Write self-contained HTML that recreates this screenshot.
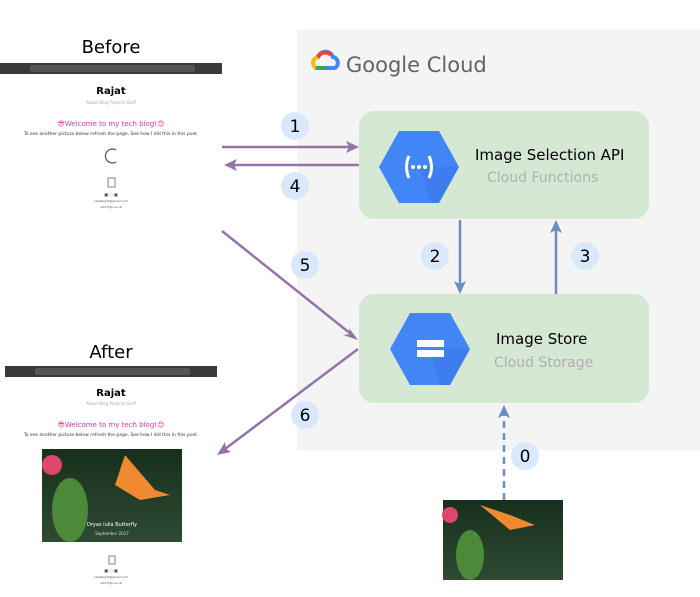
<!DOCTYPE html>
<html><head><meta charset="utf-8"><style>
body{margin:0;width:700px;height:592px;background:#fff;overflow:hidden;font-family:"Liberation Sans","DejaVu Sans",sans-serif}
svg text{font-family:"DejaVu Sans","Liberation Sans",sans-serif}
</style></head><body>
<svg width="700" height="592" viewBox="0 0 700 592" xmlns="http://www.w3.org/2000/svg">
<defs>
<linearGradient id="bf" x1="0" y1="0" x2="0" y2="1"><stop offset="0" stop-color="#17301c"/><stop offset="1" stop-color="#2e4a33"/></linearGradient>
</defs>
<rect x="297" y="30" width="403" height="420" fill="#f4f4f4"/>
<g transform="translate(312,52)">
<path d="M4 16 a6 6 0 0 1 2-11 a8 8 0 0 1 15 0 a6 6 0 0 1 2 11 z" fill="none" stroke="#4285f4" stroke-width="4"/>
<path d="M4 16 a6 6 0 0 1 2-11" fill="none" stroke="#fbbc05" stroke-width="4"/>
<path d="M6 5 a8 8 0 0 1 13-2" fill="none" stroke="#ea4335" stroke-width="4"/>
<path d="M4 16 h10" stroke="#34a853" stroke-width="4"/>
</g>
<text x="346" y="72" font-size="21" fill="#5f6368" font-family="Liberation Sans,sans-serif">Google Cloud</text>
<rect x="359" y="111" width="290" height="108" rx="15" fill="#d5e8d4"/>
<rect x="359" y="294" width="290" height="109" rx="15" fill="#d5e8d4"/>
<polygon points="379,167 399,131 439,131 459,167 439,203 399,203" fill="#4285f4"/>
<polygon points="420,167 459,167 439,203 430,203" fill="#3b78e7" opacity=".6"/>
<path d="M409 156 q-5 11 0 22" fill="none" stroke="#fff" stroke-width="3"/>
<path d="M429 156 q5 11 0 22" fill="none" stroke="#fff" stroke-width="3"/>
<circle cx="413" cy="167" r="2" fill="#fff"/><circle cx="419" cy="167" r="2" fill="#fff"/><circle cx="425" cy="167" r="2" fill="#fff"/>
<text x="475" y="160" font-size="15" fill="#000">Image Selection API</text>
<text x="487" y="182" font-size="14" fill="#b0b0b0">Cloud Functions</text>
<polygon points="390,349 410,313 450,313 470,349 450,385 410,385" fill="#4285f4"/>
<polygon points="430,349 470,349 450,385 440,385" fill="#3b78e7" opacity=".6"/>
<rect x="417" y="340" width="27" height="7" fill="#fff"/><rect x="417" y="350" width="27" height="7" fill="#fff"/>
<text x="496" y="344" font-size="15" fill="#000">Image Store</text>
<text x="494" y="367" font-size="14" fill="#b0b0b0">Cloud Storage</text>
<g stroke="#9673a6" stroke-width="2.5" fill="#9673a6">
<line x1="222" y1="147" x2="350" y2="147"/><polygon points="359,147 346,141 349,147 346,153" stroke="none"/>
<line x1="359" y1="165" x2="232" y2="165"/><polygon points="224,165 237,159 234,165 237,171" stroke="none"/>
<line x1="222" y1="231" x2="351" y2="334"/><polygon points="358,340 349,328 350,334 343,335" stroke="none"/>
<line x1="358" y1="349" x2="225" y2="449"/><polygon points="217,455 231,452 226,449 225,442" stroke="none"/>
</g>
<g stroke="#6c8ebf" stroke-width="2.5" fill="#6c8ebf">
<line x1="460" y1="220" x2="460" y2="286"/><polygon points="460,294 454,281 460,284 466,281" stroke="none"/>
<line x1="556" y1="294" x2="556" y2="228"/><polygon points="556,220 550,233 556,230 562,233" stroke="none"/>
<line x1="504" y1="500" x2="504" y2="413" stroke-dasharray="7,5"/><polygon points="504,405 498,418 504,415 510,418" stroke="none"/>
</g>
<g fill="#dae8fc">
<circle cx="295" cy="126" r="14"/><circle cx="295" cy="186" r="14"/><circle cx="305" cy="265" r="14"/><circle cx="305" cy="415" r="14"/>
<circle cx="435" cy="256" r="14"/><circle cx="585" cy="256" r="14"/><circle cx="525" cy="456" r="14"/>
</g>
<g font-size="17" fill="#000" text-anchor="middle">
<text x="295" y="132">1</text><text x="295" y="192">4</text><text x="305" y="271">5</text><text x="305" y="421">6</text>
<text x="435" y="262">2</text><text x="585" y="262">3</text><text x="525" y="462">0</text>
</g>
<rect x="443" y="500" width="120" height="80" fill="url(#bf)"/>
<ellipse cx="470" cy="555" rx="14" ry="25" fill="#4c8a3a"/>
<ellipse cx="450" cy="515" rx="8" ry="8" fill="#e0456b"/>
<polygon points="480,505 510,530 535,525 510,515" fill="#f08a30"/>
<text x="111" y="53" font-size="18" fill="#000" text-anchor="middle" font-family="Liberation Sans,sans-serif">Before</text>
<rect x="0" y="63" width="222" height="11" fill="#3a3a3a"/>
<rect x="30" y="65" width="165" height="7" fill="#555" rx="2"/>
<text x="111" y="94" font-size="10" font-weight="bold" text-anchor="middle" font-family="Liberation Mono,monospace">Rajat</text>
<text x="111" y="104" font-size="4" fill="#aaa" text-anchor="middle">About Blog Projects Stuff</text>
<text x="111" y="126" font-size="7" fill="#e0379a" text-anchor="middle">😎Welcome to my tech blog!😊</text>
<text x="111" y="135" font-size="4.5" fill="#333" text-anchor="middle">To see another picture below refresh the page. See how I did this in this post.</text>
<path d="M116 150 a7 7 0 1 0 0 12" fill="none" stroke="#555" stroke-width="1.2"/>
<rect x="108" y="178" width="7" height="9" fill="none" stroke="#666" stroke-width=".8"/>
<text x="111" y="196" font-size="4" fill="#555" text-anchor="middle">■ ○ ■</text>
<text x="111" y="202" font-size="3" fill="#555" text-anchor="middle">rajatkeqat@gmail.com</text>
<text x="111" y="208" font-size="3" fill="#555" text-anchor="middle">rs917@k.ac.uk</text>
<text x="111" y="358" font-size="18" fill="#000" text-anchor="middle" font-family="Liberation Sans,sans-serif">After</text>
<rect x="5" y="366" width="212" height="11" fill="#3a3a3a"/>
<rect x="35" y="368" width="155" height="7" fill="#555" rx="2"/>
<text x="111" y="396" font-size="10" font-weight="bold" text-anchor="middle" font-family="Liberation Mono,monospace">Rajat</text>
<text x="111" y="405" font-size="4" fill="#aaa" text-anchor="middle">About Blog Projects Stuff</text>
<text x="111" y="427" font-size="7" fill="#e0379a" text-anchor="middle">😎Welcome to my tech blog!😊</text>
<text x="111" y="436" font-size="4.5" fill="#333" text-anchor="middle">To see another picture below refresh the page. See how I did this in this post.</text>
<rect x="42" y="449" width="140" height="93" fill="url(#bf)"/>
<ellipse cx="70" cy="510" rx="18" ry="32" fill="#4c8a3a"/>
<circle cx="52" cy="465" r="10" fill="#e0456b"/>
<polygon points="125,455 155,490 170,495 140,500 115,485" fill="#f08a30"/>
<text x="112" y="526" font-size="5" fill="#fff" text-anchor="middle">Dryas Iulia Butterfly</text>
<text x="112" y="535" font-size="4" fill="#ddd" text-anchor="middle">September 2017</text>
<rect x="109" y="556" width="6" height="8" fill="none" stroke="#666" stroke-width=".8"/>
<text x="111" y="572" font-size="4" fill="#555" text-anchor="middle">■ ○ ■</text>
<text x="111" y="578" font-size="3" fill="#555" text-anchor="middle">rajatkeqat@gmail.com</text>
<text x="111" y="584" font-size="3" fill="#555" text-anchor="middle">rs917@k.ac.uk</text>
</svg>
</body></html>
